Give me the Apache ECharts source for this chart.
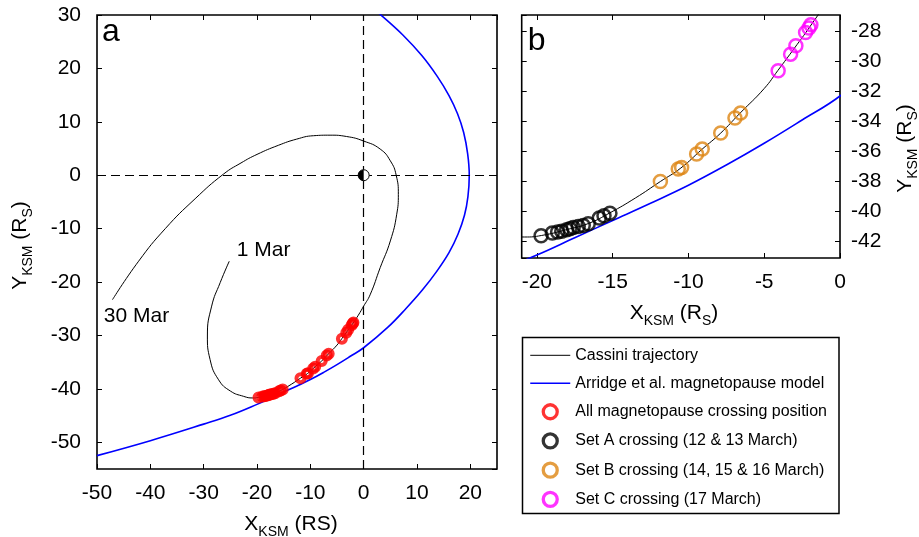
<!DOCTYPE html>
<html><head><meta charset="utf-8">
<script src="https://cdn.jsdelivr.net/npm/echarts@6/dist/echarts.min.js"></script>
<style>html,body{margin:0;padding:0;background:#fff}#c{width:919px;height:537px}</style>
</head><body><div id="c"></div>
<script>
const FONT = 'Liberation Sans, Arial, Helvetica, sans-serif';

// ---- data (KSM coordinates, R_S) ----
const trajectory = [
  [-25.2,-16.1],[-26.9,-20.1],[-28.5,-24.5],[-29.3,-30.1],[-28.8,-34.5],[-27.2,-38.3],
  [-25.0,-40.4],[-22.5,-41.4],[-20.8,-41.7],[-19.7,-41.6],[-18.0,-41.2],[-16.6,-40.8],
  [-15.2,-40.1],[-13.5,-39.1],[-11.85,-38.0],[-10.5,-37.1],[-9.1,-35.85],[-7.9,-34.8],
  [-6.6,-33.45],[-5.0,-31.8],[-4.1,-30.6],[-3.0,-29.1],[-2.0,-27.7],[-1.0,-26.2],
  [0,-24.5],[1.2,-22.4],[3.1,-17.3],[5.0,-12.3],[6.2,-7.3],[6.5,-3.6],[6.1,0],
  [5.0,2.7],[3.1,4.9],[0,6.4],[-3.2,7.25],[-6.3,7.5],[-9.4,7.4],[-12.6,6.75],
  [-16,5.6],[-20,3.9],[-23,2.3],[-26.3,0.2],[-31.6,-4.4],[-37.2,-10.0],[-42.2,-16.1],
  [-47.1,-23.3]
];
const magnetopause = [
  [2.0,31.0],[3.0,30.2],[7.3,26.3],[10.9,22.4],[13.8,18.5],[16.0,14.9],[17.6,11.5],
  [18.75,8.0],[19.5,4.0],[19.8,0],[19.55,-4.0],[18.9,-7.5],[17.7,-11.0],[16.0,-14.5],
  [13.7,-18.0],[11.0,-21.5],[7.9,-25.0],[4.5,-28.5],[0,-32.3],[-2.5,-33.9],[-5,-35.45],
  [-7.5,-36.9],[-10,-38.25],[-12.5,-39.45],[-15,-40.6],[-17.5,-41.75],[-20,-42.9],
  [-25,-44.95],[-30,-46.6],[-40,-49.7],[-50,-52.5]
];
const setA = [
  [-19.72,-41.62],[-18.98,-41.44],[-18.63,-41.37],[-18.36,-41.31],[-18.03,-41.22],
  [-17.82,-41.15],[-17.6,-41.07],[-17.27,-41.0],[-16.94,-40.93],[-16.61,-40.82],
  [-15.88,-40.44],[-15.57,-40.29],[-15.18,-40.11]
];
const setB = [
  [-11.85,-38.0],[-10.67,-37.17],[-10.45,-37.07],[-9.46,-36.17],[-9.09,-35.84],
  [-7.87,-34.77],[-6.93,-33.77],[-6.56,-33.44]
];
const setC = [
  [-4.08,-30.62],[-3.26,-29.51],[-2.91,-28.95],[-2.27,-28.07],[-2.05,-27.77],[-1.92,-27.55]
];
const saturn = [[0, 0]];
const axisZero = [0, 0];
const trajLabels = ['1 Mar', '30 Mar'];
const names = ['Cassini trajectory', 'Arridge et al. magnetopause model',
  'All magnetopause crossing position', 'Set A crossing (12 & 13 March)',
  'Set B crossing (14, 15 & 16 March)', 'Set C crossing (17 March)'];
const colors = ['#000000', '#0000ff', '#ff0000', '#000000', '#dd8512', '#ff00ff'];
const rangeAX = [-50, 25], rangeAY = [-55, 30];
const rangeBX = [-21, 0], rangeBY = [-43.1, -26.9];
const panelLetters = ['a', 'b'];

// ---- chart ----
const chart = echarts.init(document.getElementById('c'), null, {renderer: 'canvas'});

function valAxis(o) {
  const base = {
    type: 'value', scale: true,
    axisLine: {show: false, onZero: false},
    axisTick: {show: true, inside: true, length: 5, lineStyle: {color: '#000', width: 1}},
    splitLine: {show: false},
    axisLabel: {show: true, color: '#000', fontSize: 21, fontFamily: FONT}
  };
  const r = Object.assign({}, base, o);
  r.axisLabel = Object.assign({}, base.axisLabel, o.axisLabel || {});
  return r;
}
const noLab = {show: false};

const titleRich = {
  m: {fontSize: 21, fontFamily: FONT, color: '#000', verticalAlign: 'middle'},
  s: {fontSize: 14, fontFamily: FONT, color: '#000', padding: [15, 0, 0, 0], verticalAlign: 'middle'}
};
function title(txt, x, y, rot) {
  return {type: 'text', x: x, y: y, rotation: rot || 0, silent: true, z: 100,
    style: {text: txt, rich: titleRich, align: 'center', verticalAlign: 'middle',
      font: '21px ' + FONT, fill: '#000'}};
}

const ringItem = (c, w) => ({color: 'rgba(0,0,0,0)', borderColor: c, borderWidth: w});
const hiddenSym = {color: 'rgba(0,0,0,0)', borderWidth: 0, opacity: 0};

const option = {
  animation: false,
  backgroundColor: '#fff',
  grid: [
    {left: 97, top: 15, width: 400, height: 454, show: true, borderColor: '#000', borderWidth: 1.6, backgroundColor: 'rgba(0,0,0,0)'},
    {left: 521.7, top: 15, width: 318.3, height: 243, show: true, borderColor: '#000', borderWidth: 1.6, backgroundColor: 'rgba(0,0,0,0)'}
  ],
  xAxis: [
    valAxis({gridIndex: 0, position: 'bottom', min: rangeAX[0], max: rangeAX[1], splitNumber: 7, axisLabel: {margin: 14, showMaxLabel: false}}),
    valAxis({gridIndex: 0, position: 'top', min: rangeAX[0], max: rangeAX[1], splitNumber: 7, axisLabel: noLab}),
    valAxis({gridIndex: 1, position: 'bottom', min: rangeBX[0], max: rangeBX[1], splitNumber: 4, axisLabel: {margin: 14, showMinLabel: false}}),
    valAxis({gridIndex: 1, position: 'top', min: rangeBX[0], max: rangeBX[1], splitNumber: 4, axisLabel: noLab})
  ],
  yAxis: [
    valAxis({gridIndex: 0, position: 'left', min: rangeAY[0], max: rangeAY[1], splitNumber: 8, axisLabel: {margin: 16, showMinLabel: false}}),
    valAxis({gridIndex: 0, position: 'right', min: rangeAY[0], max: rangeAY[1], splitNumber: 8, axisLabel: noLab}),
    valAxis({gridIndex: 1, position: 'right', min: rangeBY[0], max: rangeBY[1], splitNumber: 8, axisLabel: {margin: 11, showMinLabel: false, showMaxLabel: false}}),
    valAxis({gridIndex: 1, position: 'left', min: rangeBY[0], max: rangeBY[1], splitNumber: 8, axisLabel: noLab})
  ],
  legend: {
    orient: 'vertical', left: 529.5, top: 347.3, itemWidth: 40, itemHeight: 14, itemGap: 11.9,
    padding: 0, selectedMode: false,
    textStyle: {fontSize: 16, fontFamily: FONT, color: '#000'},
    data: [
      {name: names[0], itemStyle: hiddenSym, lineStyle: {color: colors[0], width: 1}},
      {name: names[1], itemStyle: hiddenSym, lineStyle: {color: colors[1], width: 1.5}},
      {name: names[2], icon: 'circle', itemStyle: ringItem(colors[2], 3.3)},
      {name: names[3], icon: 'circle', itemStyle: ringItem(colors[3], 3.3)},
      {name: names[4], icon: 'circle', itemStyle: ringItem(colors[4], 3.3)},
      {name: names[5], icon: 'circle', itemStyle: ringItem(colors[5], 3.3)}
    ]
  },
  graphic: [
    {type: 'rect', shape: {x: 522.5, y: 337.5, width: 316.5, height: 176}, style: {fill: 'none', stroke: '#000', lineWidth: 1.5}, silent: true},
    {type: 'text', x: 102, y: 32.2, style: {text: panelLetters[0], font: '32px ' + FONT, fill: '#000', verticalAlign: 'middle', align: 'left'}, silent: true, z: 100},
    {type: 'text', x: 527.8, y: 41.6, style: {text: panelLetters[1], font: '32px ' + FONT, fill: '#000', verticalAlign: 'middle', align: 'left'}, silent: true, z: 100},
    title('{m|X}{s|KSM}{m| (RS)}', 291, 524.4, 0),
    title('{m|X}{s|KSM}{m| (R}{s|S}{m|)}', 674, 313.7, 0),
    title('{m|Y}{s|KSM}{m| (R}{s|S}{m|)}', 20.4, 245.5, Math.PI / 2),
    title('{m|Y}{s|KSM}{m| (R}{s|S}{m|)}', 905.4, 148.5, Math.PI / 2)
  ],
  series: [
    {
      name: names[0], type: 'line', xAxisIndex: 0, yAxisIndex: 0, data: trajectory,
      symbol: 'none', smooth: 0.5, lineStyle: {color: colors[0], width: 1}, itemStyle: {color: colors[0]}, z: 3,
      markLine: {
        silent: true, symbol: 'none', label: {show: false}, animation: false,
        lineStyle: {color: '#000', type: [9, 5], width: 1.2},
        data: [{xAxis: axisZero[0]}, {yAxis: axisZero[1]}]
      }
    },
    {
      name: names[1], type: 'line', xAxisIndex: 0, yAxisIndex: 0, data: magnetopause,
      symbol: 'none', smooth: 0.4, lineStyle: {color: colors[1], width: 1.6}, itemStyle: {color: colors[1]}, z: 3
    },
    {
      name: names[2], type: 'scatter', xAxisIndex: 0, yAxisIndex: 0, data: setA.concat(setB, setC),
      symbol: 'circle', symbolSize: 8, itemStyle: ringItem(colors[2], 4), z: 4
    },
    {
      name: 'Saturn', type: 'custom', xAxisIndex: 0, yAxisIndex: 0, data: saturn, z: 6,
      renderItem: function (params, api) {
        const p = api.coord([api.value(0), api.value(1)]);
        const r = 5.5;
        return {type: 'group', children: [
          {type: 'circle', shape: {cx: p[0], cy: p[1], r: r}, style: {fill: '#fff', stroke: '#000', lineWidth: 1}},
          {type: 'sector', shape: {cx: p[0], cy: p[1], r0: 0, r: r, startAngle: Math.PI / 2, endAngle: Math.PI * 1.5, clockwise: true}, style: {fill: '#000'}}
        ]};
      }
    },
    {
      name: 'dates', type: 'scatter', xAxisIndex: 0, yAxisIndex: 0, symbolSize: 1, z: 5,
      itemStyle: {color: 'rgba(0,0,0,0)'}, silent: true,
      data: [
        {value: trajectory[0], label: {show: true, formatter: trajLabels[0], position: 'right', offset: [2, -11]}},
        {value: trajectory[trajectory.length - 1], label: {show: true, formatter: trajLabels[1], position: 'bottom', offset: [24, 1]}}
      ],
      label: {color: '#000', fontSize: 21, fontFamily: FONT, opacity: 1}
    },
    {
      name: names[0], type: 'line', xAxisIndex: 2, yAxisIndex: 2, data: trajectory,
      symbol: 'none', smooth: 0.5, lineStyle: {color: colors[0], width: 1}, itemStyle: {color: colors[0]}, z: 3
    },
    {
      name: names[1], type: 'line', xAxisIndex: 2, yAxisIndex: 2, data: magnetopause,
      symbol: 'none', smooth: 0.4, lineStyle: {color: colors[1], width: 1.6}, itemStyle: {color: colors[1]}, z: 3
    },
    {name: names[3], type: 'scatter', xAxisIndex: 2, yAxisIndex: 2, data: setA, symbol: 'circle', symbolSize: 13, itemStyle: ringItem(colors[3], 2.5), z: 4},
    {name: names[4], type: 'scatter', xAxisIndex: 2, yAxisIndex: 2, data: setB, symbol: 'circle', symbolSize: 13, itemStyle: ringItem(colors[4], 2.5), z: 4},
    {name: names[5], type: 'scatter', xAxisIndex: 2, yAxisIndex: 2, data: setC, symbol: 'circle', symbolSize: 13, itemStyle: ringItem(colors[5], 2.5), z: 4}
  ]
};
chart.setOption(option);
</script>
</body></html>
